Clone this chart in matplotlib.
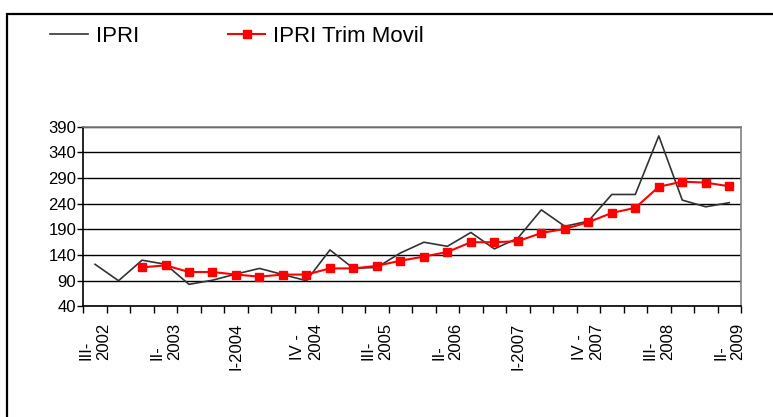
import matplotlib
matplotlib.use("Agg")
import matplotlib.pyplot as plt
from matplotlib.patches import Rectangle
import numpy as np

plt.rcParams['font.family'] = ['Liberation Sans', 'DejaVu Sans']

quarters = ["III-2002", "IV-2002",
            "I-2003", "II-2003", "III-2003", "IV-2003",
            "I-2004", "II-2004", "III-2004", "IV-2004",
            "I-2005", "II-2005", "III-2005", "IV-2005",
            "I-2006", "II-2006", "III-2006", "IV-2006",
            "I-2007", "II-2007", "III-2007", "IV-2007",
            "I-2008", "II-2008", "III-2008", "IV-2008",
            "I-2009", "II-2009"]

tick_labels = ["III-\n2002", "II-\n2003", "I-2004", "IV -\n2004", "III-\n2005",
               "II-\n2006", "I-2007", "IV -\n2007", "III-\n2008", "II-\n2009"]
tick_label_idx = [0, 3, 6, 9, 12, 15, 18, 21, 24, 27]

ipri = [122, 90, 130, 122, 83, 91, 103, 114, 102, 90,
        150, 114, 116, 144, 165, 157, 184, 152, 173, 228,
        196, 206, 258, 258, 372, 247, 234, 242]

ipri_trim = [None, None, 116, 120, 107, 107, 102, 98, 102, 102,
             114, 114, 119, 129, 137, 146, 165, 165, 167, 183,
             191, 204, 222, 232, 273, 283, 281, 274]

W, H = 773, 417
fig = plt.figure(figsize=(W / 100, H / 100), dpi=100)

left, right, top, bottom = 83.3, 741, 126.7, 306.4
ax = fig.add_axes([left / W, (H - bottom) / H, (right - left) / W, (bottom - top) / H])

x = np.arange(len(quarters))
trim = np.array([np.nan if v is None else v for v in ipri_trim], dtype=float)

ax.plot(x, ipri, color='#333333', lw=1.2, label='IPRI', zorder=3)
ax.plot(x, trim, color='#ff0000', lw=1.5, marker='s', markersize=5.5,
        markeredgecolor='#ff0000', markerfacecolor='#ff0000', label='IPRI Trim Movil', zorder=4)

ax.set_xlim(-0.5, len(quarters) - 0.5)
ax.set_ylim(40, 390)
ax.set_yticks(np.arange(40, 391, 50))
ax.yaxis.grid(True, color='black', lw=1.0)
ax.set_axisbelow(True)

ax.set_xticks(np.arange(-0.5, len(quarters), 1.0))
ax.set_xticklabels([])
ax.set_xticks(tick_label_idx, minor=True)
ax.set_xticklabels(tick_labels, minor=True, rotation=90, ha='center', va='top',
                   multialignment='left', fontsize=12)
ax.tick_params(axis='x', which='major', direction='out', length=5, width=1, color='black')
ax.tick_params(axis='x', which='minor', length=0, pad=12)
ax.tick_params(axis='y', direction='out', length=4, width=1, pad=1, labelsize=12)

for s in ['top', 'right']:
    ax.spines[s].set_color('#808080')
    ax.spines[s].set_linewidth(1.2)
for s in ['left', 'bottom']:
    ax.spines[s].set_color('black')
    ax.spines[s].set_linewidth(1.2)

fig.legend(loc='upper left', bbox_to_anchor=(50 / W, 1 - 26 / H), ncol=2, frameon=False,
           fontsize=16, handlelength=1.7, handletextpad=0.35, columnspacing=4.0,
           borderaxespad=0, borderpad=0)

fig.patches.append(Rectangle((7 / W, -0.1), 1.2, (H - 14) / H + 0.1, transform=fig.transFigure,
                             fill=False, edgecolor='black', lw=1.6, clip_on=False))

fig.savefig('out.png', dpi=100)
